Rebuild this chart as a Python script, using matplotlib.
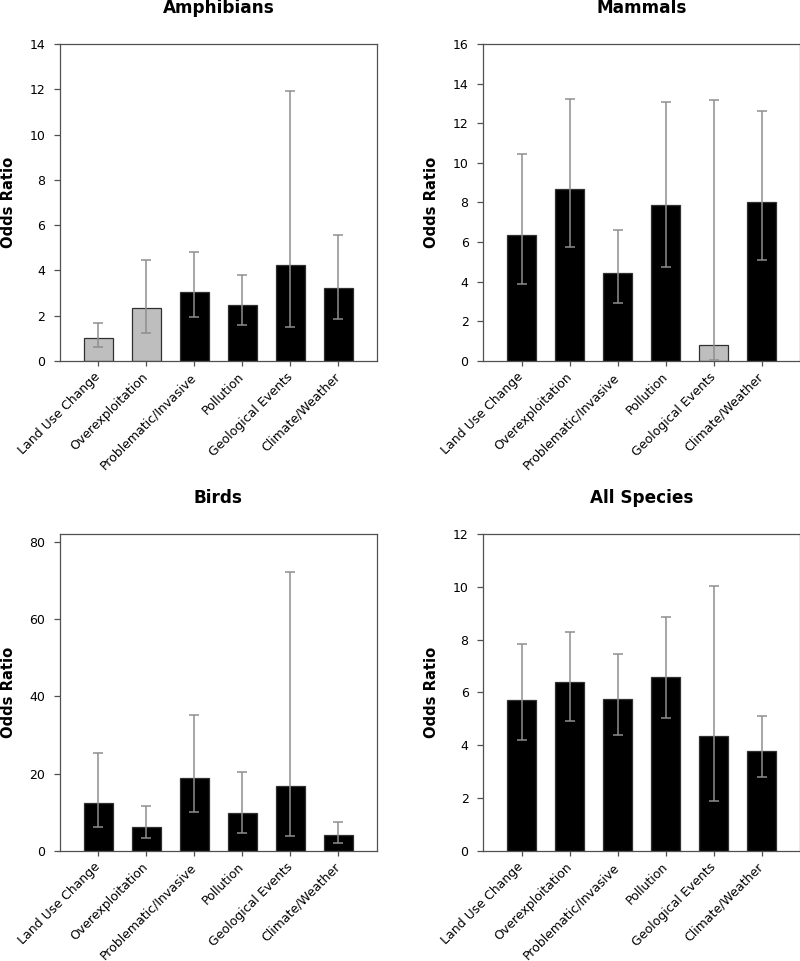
import matplotlib
matplotlib.use("Agg")
import matplotlib.pyplot as plt
import numpy as np

plt.rcParams['font.family'] = ['DejaVu Sans']

categories = ["Land Use Change", "Overexploitation", "Problematic/Invasive",
              "Pollution", "Geological Events", "Climate/Weather"]

amph_vals = [1.02, 2.33, 3.05, 2.46, 4.23, 3.24]
amph_low = [0.62, 1.22, 1.94, 1.58, 1.49, 1.87]
amph_high = [1.68, 4.45, 4.80, 3.81, 11.94, 5.55]
amph_gray = [True, True, False, False, False, False]

mamm_vals = [6.38, 8.70, 4.42, 7.89, 0.81, 8.01]
mamm_low = [3.87, 5.74, 2.94, 4.76, 0.04, 5.11]
mamm_high = [10.46, 13.21, 6.63, 13.06, 13.19, 12.62]
mamm_gray = [False, False, False, False, True, False]

bird_vals = [12.4, 6.3, 18.9, 9.7, 16.7, 4.0]
bird_low = [6.1, 3.4, 10.2, 4.6, 3.8, 2.1]
bird_high = [25.3, 11.7, 35.1, 20.4, 72.2, 7.6]
bird_gray = [False] * 6

all_vals = [5.73, 6.40, 5.74, 6.60, 4.35, 3.77]
all_low = [4.19, 4.91, 4.39, 5.02, 1.88, 2.81]
all_high = [7.82, 8.29, 7.46, 8.87, 10.01, 5.11]
all_gray = [False] * 6

panels = [
    ("Amphibians", amph_vals, amph_low, amph_high, amph_gray, 14, 2, [0.075, 0.6243, 0.396, 0.330]),
    ("Mammals", mamm_vals, mamm_low, mamm_high, mamm_gray, 16, 2, [0.604, 0.6243, 0.396, 0.330]),
    ("Birds", bird_vals, bird_low, bird_high, bird_gray, 82, 20, [0.075, 0.1145, 0.396, 0.330]),
    ("All Species", all_vals, all_low, all_high, all_gray, 12, 2, [0.604, 0.1145, 0.396, 0.330]),
]

fig = plt.figure(figsize=(8.0, 9.61), dpi=100)
x = np.arange(len(categories))
for title, vals, low, high, gray, ymax, step, pos in panels:
    ax = fig.add_axes(pos)
    vals = np.array(vals); low = np.array(low); high = np.array(high)
    colors = ['#bebebe' if g else 'black' for g in gray]
    ax.bar(x, vals, width=0.6, color=colors, edgecolor='#303030', linewidth=0.9, zorder=2)
    ax.errorbar(x, vals, yerr=[vals - low, high - vals], fmt='none',
                ecolor='#8e8e8e', elinewidth=1.1, capsize=3.6, capthick=1.1, zorder=3)
    ax.set_xlim(-0.8, 5.8)
    ax.set_ylim(0, ymax)
    ax.set_yticks(np.arange(0, ymax + 0.01, step))
    ax.set_xticks(x)
    ax.set_xticklabels(categories, rotation=45, ha='right', va='center',
                       rotation_mode='anchor', fontsize=9)
    ax.tick_params(axis='x', direction='out', length=3.6, width=0.9, color='#505050',
                   labelsize=9, pad=6.5)
    ax.tick_params(axis='y', direction='out', length=4.5, width=0.9, color='#505050',
                   labelsize=9, pad=6)
    for s in ax.spines.values():
        s.set_color('#505050')
        s.set_linewidth(0.9)
    ax.set_ylabel("Odds Ratio", fontsize=10.6, fontweight='bold')
    ax.yaxis.set_label_coords(-0.139, 0.5)
    ax.set_title(title, fontsize=12.2, fontweight='bold', pad=22)

fig.savefig("out.png", dpi=100)
